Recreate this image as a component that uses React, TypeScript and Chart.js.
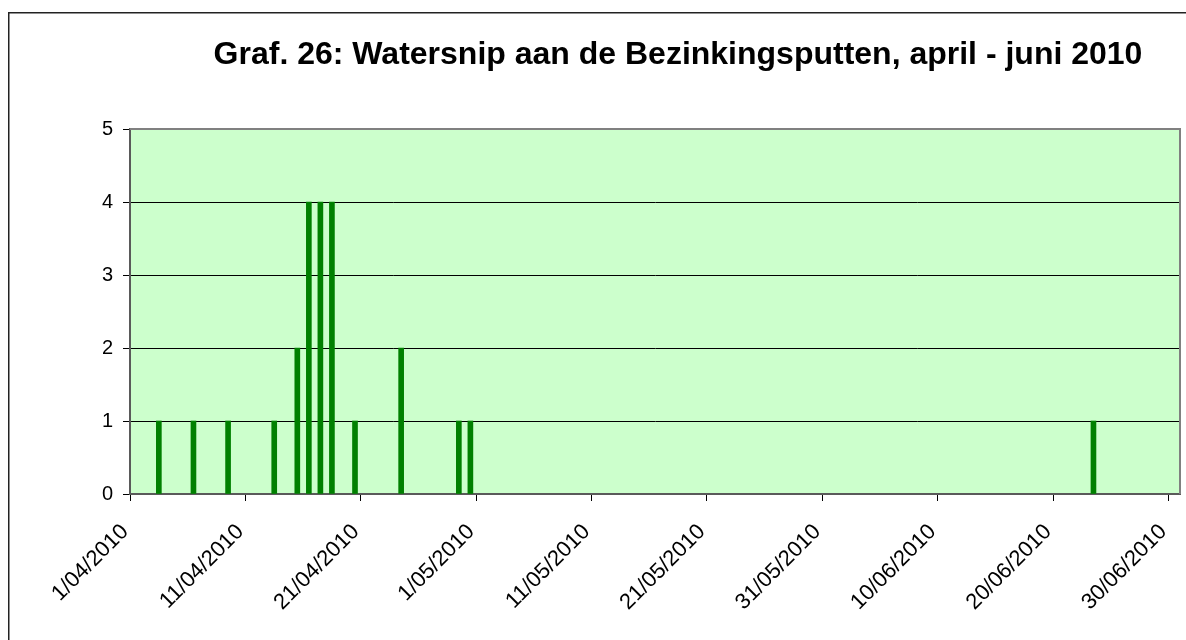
import React, { useEffect, useRef } from "react";
import { Chart, registerables } from "chart.js";

Chart.register(...registerables);

const TITLE = "Graf. 26: Watersnip aan de Bezinkingsputten, april - juni 2010";
const START_DATE = "1/04/2010";
const END_DATE = "1/07/2010";
const DATES = [
  "3/04/2010", "6/04/2010", "9/04/2010", "13/04/2010", "15/04/2010", "16/04/2010",
  "17/04/2010", "18/04/2010", "20/04/2010", "24/04/2010", "29/04/2010", "30/04/2010",
  "23/06/2010",
];
const COUNTS = [1, 1, 1, 1, 2, 4, 4, 4, 1, 2, 1, 1, 1];
const X_TICK_LABELS = [
  "1/04/2010", "11/04/2010", "21/04/2010", "1/05/2010", "11/05/2010",
  "21/05/2010", "31/05/2010", "10/06/2010", "20/06/2010", "30/06/2010",
];
const Y_TICKS = [0, 1, 2, 3, 4, 5];

function dayOffset(s: string): number {
  const [d, m, y] = s.split("/").map(Number);
  const [d0, m0, y0] = START_DATE.split("/").map(Number);
  return Math.round((Date.UTC(y, m - 1, d) - Date.UTC(y0, m0 - 1, d0)) / 86400000);
}

const W = 1186;
const H = 640;

export default function App() {
  const ref = useRef<HTMLCanvasElement | null>(null);
  useEffect(() => {
    if (!ref.current) return;
    const tickDays = X_TICK_LABELS.map(dayOffset);
    const labelFor = new Map<number, string>();
    X_TICK_LABELS.forEach((l, i) => labelFor.set(tickDays[i], l));

    const bgPlugin = {
      id: "bg",
      beforeDraw(chart: any) {
        const { ctx, chartArea: a } = chart;
        ctx.save();
        ctx.fillStyle = "#FFFFFF";
        ctx.fillRect(0, 0, W, H);
        ctx.fillStyle = "#CCFFCC";
        ctx.fillRect(a.left, a.top, a.right - a.left, a.bottom - a.top);
        ctx.strokeStyle = "#222";
        ctx.lineWidth = 1.5;
        ctx.beginPath();
        ctx.moveTo(8.75, H);
        ctx.lineTo(8.75, 12.75);
        ctx.lineTo(W, 12.75);
        ctx.stroke();
        ctx.restore();
      },
      afterDraw(chart: any) {
        const { ctx, chartArea: a } = chart;
        ctx.save();
        ctx.strokeStyle = "#808080";
        ctx.lineWidth = 2;
        ctx.beginPath();
        ctx.moveTo(a.left, a.top);
        ctx.lineTo(a.right, a.top);
        ctx.lineTo(a.right, a.bottom);
        ctx.stroke();
        ctx.fillStyle = "#000";
        ctx.font = "bold 32px Arial, 'Liberation Sans', sans-serif";
        ctx.textAlign = "center";
        ctx.textBaseline = "middle";
        ctx.fillText(TITLE, 678, 55);
        ctx.restore();
      },
    };

    const chart = new Chart(ref.current, {
      type: "bar",
      data: {
        datasets: [
          {
            data: DATES.map((d, i) => ({ x: dayOffset(d) + 0.5, y: COUNTS[i] })),
            backgroundColor: "#008000",
            borderWidth: 0,
            barThickness: 5,
          },
        ],
      },
      options: {
        animation: false,
        responsive: false,
        devicePixelRatio: 1,
        layout: { padding: { top: 129, right: 6, left: 0, bottom: 0 } },
        plugins: { legend: { display: false }, tooltip: { enabled: false }, title: { display: false } },
        scales: {
          x: {
            type: "linear",
            offset: false,
            min: 0,
            max: dayOffset(END_DATE),
            afterBuildTicks(scale: any) {
              scale.ticks = tickDays.map((v) => ({ value: v }));
            },
            afterFit(scale: any) {
              scale.height = H - 494;
              scale.paddingLeft = 0;
              scale.paddingRight = 0;
            },
            ticks: {
              autoSkip: false,
              minRotation: 45,
              maxRotation: 45,
              padding: 18,
              labelOffset: -5,
              color: "#000",
              font: { family: "Arial, 'Liberation Sans', sans-serif", size: 22 },
              callback: (v: any) => labelFor.get(Number(v)) ?? "",
            },
            grid: { display: true, offset: false, drawOnChartArea: false, drawTicks: true, tickLength: 7, color: "#000", tickColor: "#000" },
            border: { display: true, color: "#5a5a5a", width: 2 },
          },
          y: {
            min: Y_TICKS[0],
            max: Y_TICKS[Y_TICKS.length - 1],
            afterBuildTicks(scale: any) {
              scale.ticks = Y_TICKS.map((v) => ({ value: v }));
            },
            afterFit(scale: any) {
              scale.width = 130;
              scale.paddingTop = 0;
              scale.paddingBottom = 0;
            },
            ticks: {
              padding: 10,
              color: "#000",
              font: { family: "Arial, 'Liberation Sans', sans-serif", size: 20 },
            },
            grid: { color: "#000", lineWidth: 1, tickLength: 7, tickColor: "#000" },
            border: { display: true, color: "#5a5a5a", width: 2 },
          },
        },
      },
      plugins: [bgPlugin],
    });
    return () => chart.destroy();
  }, []);

  return (
    <div style={{ position: "fixed", left: 0, top: 0, width: W, height: H, overflow: "hidden", background: "#fff" }}>
      <canvas ref={ref} width={W} height={H} style={{ display: "block", width: W, height: H }} />
    </div>
  );
}
